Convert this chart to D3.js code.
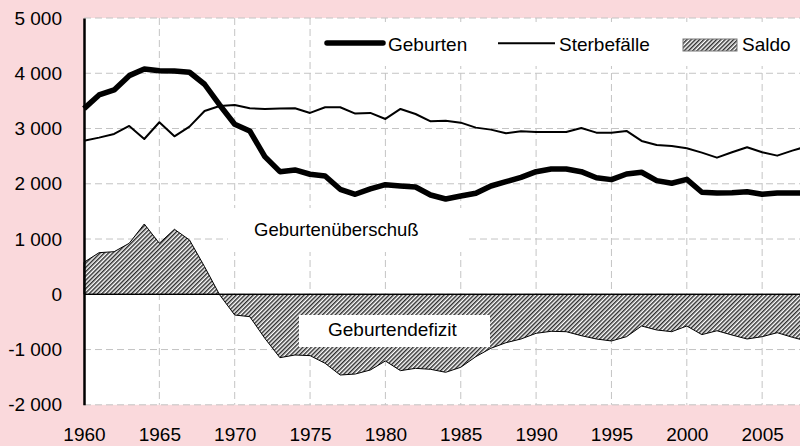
<!DOCTYPE html>
<html>
<head>
<meta charset="utf-8">
<script src="https://cdn.jsdelivr.net/npm/d3@7/dist/d3.min.js"></script>
<style>
  body { margin: 0; background: #fad9dc; }
  svg text { font-family: "Liberation Sans", Arial, sans-serif; fill: #000; }
</style>
</head>
<body>
<script>
var width = 800
var height = 446

// values
var years = [1960, 1961, 1962, 1963, 1964, 1965, 1966, 1967, 1968, 1969,
             1970, 1971, 1972, 1973, 1974, 1975, 1976, 1977, 1978, 1979,
             1980, 1981, 1982, 1983, 1984, 1985, 1986, 1987, 1988, 1989,
             1990, 1991, 1992, 1993, 1994, 1995, 1996, 1997, 1998, 1999,
             2000, 2001, 2002, 2003, 2004, 2005, 2006, 2007, 2008]

var geburten = [3360, 3607, 3698, 3957, 4078, 4047, 4041, 4018, 3801, 3426,
                3077, 2956, 2491, 2219, 2250, 2172, 2141, 1900, 1810, 1906,
                1984, 1960, 1942, 1797, 1725, 1779, 1828, 1960, 2038, 2117,
                2219, 2268, 2268, 2219, 2110, 2075, 2177, 2208, 2057, 2009,
                2081, 1846, 1834, 1839, 1857, 1810, 1834, 1834, 1830]

var sterbefaelle = [2780, 2835, 2901, 3046, 2811, 3113, 2859, 3034, 3318, 3408,
                    3426, 3366, 3354, 3360, 3366, 3282, 3384, 3384, 3270, 3282,
                    3173, 3354, 3263, 3130, 3142, 3106, 3016, 2980, 2914, 2950,
                    2938, 2938, 2938, 3010, 2925, 2925, 2956, 2775, 2702, 2684,
                    2642, 2563, 2473, 2570, 2661, 2570, 2509, 2600, 2680]

var saldo = [579, 753, 771, 923, 1272, 923, 1176, 983, 500, -10,
             -375, -405, -797, -1147, -1099, -1110, -1249, -1461, -1443, -1370,
             -1207, -1382, -1340, -1358, -1412, -1321, -1129, -977, -876, -809,
             -706, -670, -677, -749, -809, -845, -767, -574, -646, -677,
             -574, -730, -660, -737, -809, -767, -695, -778, -850]

var yTicks = [-2000, -1000, 0, 1000, 2000, 3000, 4000, 5000]
var yTickLabels = ['-2 000', '-1 000', '0', '1 000', '2 000', '3 000', '4 000', '5 000']
var xTicks = [1960, 1965, 1970, 1975, 1980, 1985, 1990, 1995, 2000, 2005]

var legendNames = ['Geburten', 'Sterbefälle', 'Saldo']

var data = years.map((yr, i) => ({year: yr, geb: geburten[i], ster: sterbefaelle[i], saldo: saldo[i]}))

var xScale = d3.scaleLinear()
               .domain([1960, 2010])
               .range([84, 837.5])

var yScale = d3.scaleLinear()
               .domain([-2000, 5000])
               .range([404.8, 18])

var svg = d3.select('body').append('svg')
            .attr('width', width)
            .attr('height', height)

// hatch for the saldo area
var defs = svg.append('defs')
var pat = defs.append('pattern')
              .attr('id', 'hatch')
              .attr('patternUnits', 'userSpaceOnUse')
              .attr('width', 3)
              .attr('height', 3)
              .attr('patternTransform', 'rotate(45)')
pat.append('rect').attr('width', 3).attr('height', 3).attr('fill', '#fff')
pat.append('line')
   .attr('x1', 0.75).attr('y1', 0).attr('x2', 0.75).attr('y2', 3)
   .attr('stroke', '#222')
   .attr('stroke-width', 1.4)

svg.append('rect')
   .attr('width', width).attr('height', height)
   .attr('fill', '#fad9dc')

// plot area
svg.append('rect')
   .attr('x', xScale(1960))
   .attr('y', yScale(5000))
   .attr('width', width - xScale(1960))
   .attr('height', yScale(-2000) - yScale(5000))
   .attr('fill', '#fff')

var grid = svg.append('g')
              .attr('stroke', '#c4c4c4')
              .attr('stroke-width', 1)
              .attr('stroke-dasharray', '7,4')

grid.selectAll('.hgrid')
    .data(yTicks)
    .enter().append('line')
    .attr('x1', xScale(1960)).attr('x2', width)
    .attr('y1', d => yScale(d)).attr('y2', d => yScale(d))

grid.selectAll('.vgrid')
    .data(xTicks.slice(1))
    .enter().append('line')
    .attr('x1', d => xScale(d)).attr('x2', d => xScale(d))
    .attr('y1', yScale(5000)).attr('y2', yScale(-2000))

var area = d3.area()
             .x(d => xScale(d.year))
             .y0(yScale(0))
             .y1(d => yScale(d.saldo))

svg.append('path')
   .attr('d', area(data))
   .attr('fill', 'url(#hatch)')
   .attr('stroke', '#000')
   .attr('stroke-width', 1)
   .attr('stroke-linejoin', 'round')

// zero line
svg.append('line')
   .attr('x1', xScale(1960)).attr('x2', width)
   .attr('y1', yScale(0)).attr('y2', yScale(0))
   .attr('stroke', '#000')
   .attr('stroke-width', 1.2)

var gebLine = d3.line()
                .x(d => xScale(d.year))
                .y(d => yScale(d.geb))

var sterLine = d3.line()
                 .x(d => xScale(d.year))
                 .y(d => yScale(d.ster))

svg.append('path')
   .attr('d', sterLine(data))
   .attr('fill', 'none')
   .attr('stroke', '#000')
   .attr('stroke-width', 2)
   .attr('stroke-linejoin', 'round')

svg.append('path')
   .attr('d', gebLine(data))
   .attr('fill', 'none')
   .attr('stroke', '#000')
   .attr('stroke-width', 5.5)
   .attr('stroke-linejoin', 'round')

// axes
var yAxis = d3.axisLeft(yScale)
              .tickValues(yTicks)
              .tickFormat((d, i) => yTickLabels[i])
              .tickSize(0)
              .tickPadding(22)

var gy = svg.append('g')
            .attr('transform', 'translate(' + [xScale(1960), 0] + ')')
            .call(yAxis)
gy.select('.domain').attr('stroke', '#000').attr('stroke-width', 2.5)
gy.selectAll('text').attr('font-size', 19)

var xAxis = d3.axisBottom(xScale)
              .tickValues(xTicks)
              .tickFormat(d3.format('d'))
              .tickSize(0)
              .tickPadding(22.5)

var gx = svg.append('g')
            .attr('transform', 'translate(' + [0, yScale(-2000)] + ')')
            .call(xAxis)
gx.select('.domain').remove()
gx.selectAll('text').attr('font-size', 19)

// text labels in the plot
svg.append('rect')
   .attr('x', 228).attr('y', 208).attr('width', 238).attr('height', 44)
   .attr('fill', '#fff')
svg.append('text')
   .attr('x', 254).attr('y', 236)
   .attr('font-size', 18.5)
   .text('Geburtenüberschuß')

svg.append('rect')
   .attr('x', 299).attr('y', 315).attr('width', 191).attr('height', 32)
   .attr('fill', '#fff')
svg.append('text')
   .attr('x', 328).attr('y', 336)
   .attr('font-size', 19)
   .text('Geburtendefizit')

// legend
var legend = svg.append('g')
legend.append('rect')
      .attr('x', 318).attr('y', 22).attr('width', width - 318).attr('height', 44)
      .attr('fill', '#fff')

legend.append('line')
      .attr('x1', 327).attr('x2', 383).attr('y1', 43).attr('y2', 43)
      .attr('stroke', '#000').attr('stroke-width', 5.5).attr('stroke-linecap', 'round')
legend.append('text').attr('x', 388).attr('y', 51).attr('font-size', 19).text(legendNames[0])

legend.append('line')
      .attr('x1', 498).attr('x2', 555).attr('y1', 43.3).attr('y2', 43.3)
      .attr('stroke', '#000').attr('stroke-width', 2)
legend.append('text').attr('x', 559).attr('y', 51).attr('font-size', 19).text(legendNames[1])

legend.append('rect')
      .attr('x', 683).attr('y', 39).attr('width', 54).attr('height', 12)
      .attr('fill', 'url(#hatch)')
      .attr('stroke', '#777').attr('stroke-width', 1)
legend.append('text').attr('x', 742).attr('y', 51).attr('font-size', 19).text(legendNames[2])
</script>
</body>
</html>
